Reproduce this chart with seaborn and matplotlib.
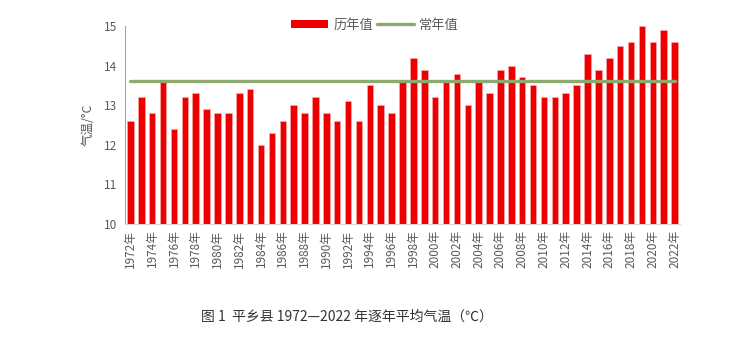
import matplotlib
matplotlib.use("Agg")
import matplotlib.pyplot as plt
from matplotlib.patches import Patch
from matplotlib.lines import Line2D
import seaborn as sns
import pandas as pd

# Annual mean temperature, Pingxiang County (°C)
years = list(range(1972, 2023))
temps = [12.6, 13.2, 12.8, 13.6, 12.4, 13.2, 13.3, 12.9, 12.8, 12.8,
         13.3, 13.4, 12.0, 12.3, 12.6, 13.0, 12.8, 13.2, 12.8, 12.6,
         13.1, 12.6, 13.5, 13.0, 12.8, 13.6, 14.2, 13.9, 13.2, 13.6,
         13.8, 13.0, 13.6, 13.3, 13.9, 14.0, 13.7, 13.5, 13.2, 13.2,
         13.3, 13.5, 14.3, 13.9, 14.2, 14.5, 14.6, 15.0, 14.6, 14.9,
         14.6]
normal_value = 13.6
year_labels = [f"{y}年" for y in years]
y_ticks = [10, 11, 12, 13, 14, 15]

df = pd.DataFrame({"year": year_labels, "temp": temps})

sns.set_theme(style="white")
plt.rcParams["font.family"] = ["Noto Sans CJK SC", "DejaVu Sans"]

BAR_RED = "#EE0000"
LINE_GREEN = "#8FAA6E"
TEXT_GRAY = "#595959"
AXIS_GRAY = "#A6A6A6"

fig = plt.figure(figsize=(7.5, 3.5), dpi=100)
ax = fig.add_axes([0.1667, 0.36, 0.74, 0.5657])

sns.barplot(data=df, x="year", y="temp", color=BAR_RED, width=0.6,
            saturation=1, ax=ax, edgecolor="#F6B0B0", linewidth=0.4)

# Long-term normal as a horizontal series across all years
ax.plot([0, len(years) - 1], [normal_value, normal_value], color=LINE_GREEN,
        linewidth=2.4, solid_capstyle="round", zorder=5)

ax.set_ylim(10, 15)
ax.set_xlim(-0.5, len(years) - 0.5)
ax.set_yticks(y_ticks)
ax.set_yticklabels([str(t) for t in y_ticks], color=TEXT_GRAY, fontsize=8.5)

pos = list(range(0, len(years), 2))
ax.set_xticks(pos)
ax.set_xticklabels([year_labels[i] for i in pos], rotation=90,
                   color=TEXT_GRAY, fontsize=8.5)

ax.set_xlabel("")
ax.set_ylabel("气温/°C", color=TEXT_GRAY, fontsize=9, labelpad=6)

for side in ["top", "right"]:
    ax.spines[side].set_visible(False)
ax.spines["left"].set_color(AXIS_GRAY)
ax.spines["bottom"].set_color("#D9D9D9")
ax.spines["left"].set_linewidth(0.8)
ax.spines["bottom"].set_linewidth(0.8)
ax.tick_params(axis="y", direction="in", length=4, color=AXIS_GRAY, width=0.8, pad=6)
ax.tick_params(axis="x", length=0, pad=4)

handles = [Patch(facecolor=BAR_RED, edgecolor="none"),
           Line2D([0], [0], color=LINE_GREEN, linewidth=2.4)]
leg = fig.legend(handles, ["历年值", "常年值"], loc="center",
                 bbox_to_anchor=(0.5, 0.928), ncol=2, frameon=False,
                 fontsize=9.5, handlelength=2.8, handleheight=0.5,
                 columnspacing=0.3, handletextpad=0.4)
for t in leg.get_texts():
    t.set_color(TEXT_GRAY)

fig.text(0.463, 0.094, "图 1  平乡县 1972—2022 年逐年平均气温（℃）",
         ha="center", va="center", fontsize=10, color="#333333")

fig.savefig("out.png", dpi=100, facecolor="white")
